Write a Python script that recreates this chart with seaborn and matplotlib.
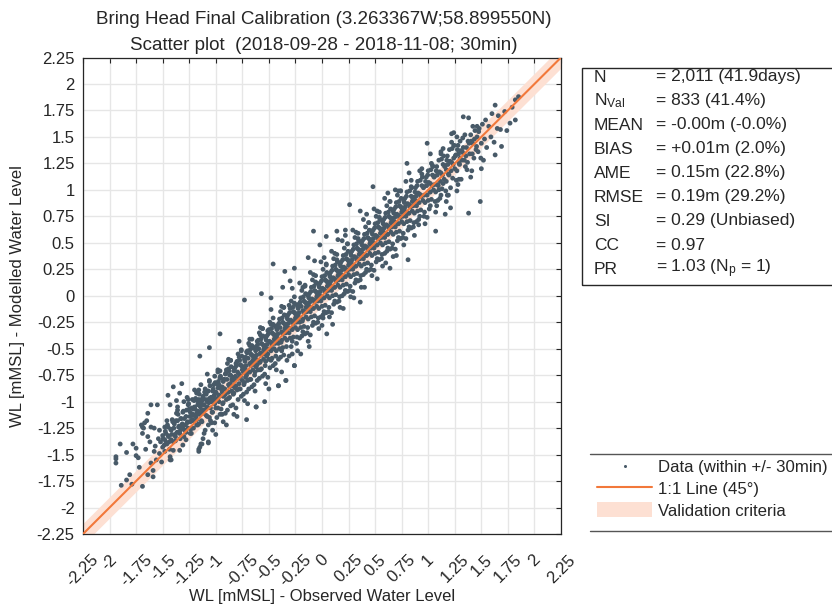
import matplotlib
matplotlib.use("Agg")
import matplotlib.pyplot as plt
from matplotlib.lines import Line2D
from matplotlib.patches import Rectangle, Patch
import numpy as np
import pandas as pd
import seaborn as sns

# ---------------------------------------------------------------- data
# (observed, modelled) water level pairs in m MSL, grouped by tidal stage
low_tide_pairs = [
    (-1.89, -1.79), (-1.84, -1.74), (-1.79, -1.78), (-1.69, -1.80), (-1.94, -1.52), (-1.94, -1.54),
    (-1.94, -1.58), (-1.90, -1.40), (-1.84, -1.48), (-1.78, -1.40), (-1.75, -1.44), (-1.75, -1.51),
    (-1.73, -1.53), (-1.67, -1.20), (-1.68, -1.25), (-1.61, -1.03), (-1.55, -1.03), (-1.69, -1.30),
    (-1.64, -1.33), (-1.62, -1.38), (-1.58, -1.47), (-1.56, -1.55), (-1.61, -1.58), (-1.59, -1.65),
    (-1.64, -1.69), (-1.59, -1.71), (-1.53, -1.49), (-1.51, -1.57), (-1.50, -1.43), (-1.48, -1.36),
    (-1.47, -1.30), (-1.45, -1.24), (-1.43, -1.52), (-1.42, -1.55), (-1.40, -1.46), (-1.40, -1.38),
    (-1.40, -0.86), (-1.32, -0.83), (-1.34, -0.92), (-1.37, -0.99), (-1.45, -0.94), (-1.43, -1.03),
    (-1.61, -1.24), (-1.58, -1.25), (-1.53, -1.27), (-1.48, -1.24), (-1.50, -1.32), (-1.54, -1.35),
    (-1.45, -1.32), (-1.42, -1.27), (-1.39, -1.21), (-1.36, -1.18), (-1.34, -1.30), (-1.31, -1.24),
    (-1.69, -1.24), (-1.70, -1.22), (-1.64, -1.11), (-1.65, -1.18), (-1.37, -1.11), (-1.31, -1.10),
    (-1.28, -1.14), (-1.25, -1.07), (-1.26, -1.25), (-1.23, -1.30), (-1.28, -1.36), (-1.31, -1.41),
    (-1.34, -1.46), (-1.43, -1.55), (-1.36, -1.05), (-1.30, -1.00), (-1.27, -0.96), (-1.33, -1.16),
    (-1.29, -1.27), (-1.38, -1.33), (-1.46, -1.40), (-1.52, -1.38), (-1.57, -1.42), (-1.66, -1.45),
    (-1.72, -1.62), (-1.81, -1.69), (-1.27, -1.20), (-1.35, -1.24), (-1.41, -1.17), (-1.30, -1.33),
    (-1.26, -1.03),
]

ebb_pairs = [
    (-1.21, -1.18), (-1.18, -1.11), (-1.17, -1.22), (-1.15, -1.43), (-1.16, -1.47), (-1.14, -1.40),
    (-1.07, -1.38), (-1.12, -1.35), (-1.15, -0.57), (-1.06, -0.49), (-0.96, -0.36), (-1.16, -1.45),
    (-1.07, -1.39), (-0.62, -1.05), (-0.41, -0.85), (-0.34, -0.80), (-0.26, -0.66),
    (-1.24, -1.10), (-1.23, -1.18), (-1.22, -0.98), (-1.21, -1.25), (-1.20, -1.05), (-1.19, -1.14),
    (-1.18, -0.92), (-1.17, -1.09), (-1.16, -1.21), (-1.16, -1.01), (-1.24, -1.30), (-1.22, -1.13),
    (-1.20, -0.89), (-1.18, -1.17), (-1.17, -1.03), (-1.15, -1.12), (-1.19, -0.97), (-1.21, -1.07),
    (-1.14, -1.02), (-1.13, -1.19), (-1.12, -0.95), (-1.11, -1.08), (-1.10, -0.88), (-1.09, -1.13),
    (-1.08, -1.00), (-1.07, -1.22), (-1.06, -0.97), (-1.05, -1.06), (-1.14, -0.84), (-1.12, -1.11),
    (-1.10, -1.27), (-1.09, -0.93), (-1.08, -1.05), (-1.06, -1.15), (-1.13, -0.99), (-1.11, -1.03),
    (-1.07, -0.90), (-1.05, -1.18),
    (-1.04, -0.96), (-1.03, -1.10), (-1.02, -0.84), (-1.01, -1.02), (-1.00, -0.91), (-0.99, -1.15),
    (-0.98, -0.87), (-0.97, -1.00), (-0.96, -0.78), (-0.95, -1.07), (-1.04, -1.20), (-1.02, -0.97),
    (-1.00, -1.06), (-0.99, -0.83), (-0.98, -0.99), (-0.96, -1.12), (-1.03, -0.90), (-1.01, -0.76),
    (-0.97, -0.94), (-0.95, -0.88), (-1.00, -1.31), (-0.98, -0.72),
    (-0.94, -0.86), (-0.93, -1.01), (-0.92, -0.79), (-0.91, -0.93), (-0.90, -0.70), (-0.89, -1.08),
    (-0.88, -0.84), (-0.87, -0.96), (-0.86, -0.75), (-0.85, -0.90), (-0.94, -1.12), (-0.92, -0.88),
    (-0.90, -0.98), (-0.89, -0.64), (-0.88, -0.91), (-0.86, -1.04), (-0.93, -0.81), (-0.91, -0.74),
    (-0.87, -0.86), (-0.85, -0.79), (-0.90, -1.22), (-0.88, -0.69), (-0.93, -0.95),
    (-0.84, -0.77), (-0.83, -0.92), (-0.82, -0.68), (-0.81, -0.85), (-0.80, -0.62), (-0.79, -0.98),
    (-0.78, -0.74), (-0.77, -0.88), (-0.76, -0.66), (-0.75, -0.80), (-0.84, -1.03), (-0.82, -0.80),
    (-0.80, -0.89), (-0.79, -0.55), (-0.78, -0.83), (-0.76, -0.95), (-0.83, -0.71), (-0.81, -0.64),
    (-0.77, -0.76), (-0.75, -0.70), (-0.80, -1.14), (-0.78, -0.58), (-0.82, -0.87), (-0.71, -1.17),
    (-0.74, -0.67), (-0.73, -0.82), (-0.72, -0.58), (-0.71, -0.75), (-0.70, -0.52), (-0.69, -0.88),
    (-0.68, -0.64), (-0.67, -0.79), (-0.66, -0.56), (-0.65, -0.70), (-0.74, -0.93), (-0.72, -0.70),
    (-0.70, -0.80), (-0.69, -0.45), (-0.68, -0.72), (-0.66, -0.86), (-0.73, -0.60), (-0.71, -0.53),
    (-0.67, -0.66), (-0.65, -0.61), (-0.70, -1.02), (-0.68, -0.47), (-0.72, -0.77), (-0.73, -0.04),
    (-0.64, -0.57), (-0.63, -0.72), (-0.62, -0.48), (-0.61, -0.65), (-0.60, -0.42), (-0.59, -0.78),
    (-0.58, -0.54), (-0.57, -0.69), (-0.56, -0.46), (-0.55, -0.60), (-0.64, -0.84), (-0.62, -0.61),
    (-0.60, -0.70), (-0.59, -0.35), (-0.58, -0.62), (-0.56, -0.76), (-0.63, -0.50), (-0.61, -0.43),
    (-0.57, -0.56), (-0.55, -0.51), (-0.62, -1.05), (-0.58, -0.37), (-0.62, -0.67), (-0.54, -1.00),
    (-0.54, -0.47), (-0.53, -0.62), (-0.52, -0.38), (-0.51, -0.55), (-0.50, -0.32), (-0.49, -0.68),
    (-0.48, -0.44), (-0.47, -0.59), (-0.46, -0.36), (-0.45, -0.50), (-0.54, -0.74), (-0.52, -0.51),
    (-0.50, -0.60), (-0.49, -0.25), (-0.48, -0.52), (-0.46, -0.66), (-0.53, -0.40), (-0.51, -0.33),
    (-0.47, -0.46), (-0.45, -0.41), (-0.50, -0.88), (-0.48, -0.27), (-0.52, -0.57), (-0.57, 0.02),
    (-0.48, -0.02),
    (-0.44, -0.37), (-0.43, -0.52), (-0.42, -0.28), (-0.41, -0.45), (-0.40, -0.22), (-0.39, -0.58),
    (-0.38, -0.34), (-0.37, -0.49), (-0.36, -0.26), (-0.35, -0.40), (-0.44, -0.64), (-0.42, -0.41),
    (-0.40, -0.50), (-0.39, -0.15), (-0.38, -0.42), (-0.36, -0.56), (-0.43, -0.30), (-0.41, -0.85),
    (-0.37, -0.36), (-0.35, -0.31), (-0.46, 0.30), (-0.37, 0.08), (-0.35, 0.23), (-0.38, -0.72),
    (-0.34, -0.27), (-0.33, -0.42), (-0.32, -0.18), (-0.31, -0.35), (-0.30, -0.12), (-0.29, -0.48),
    (-0.28, -0.24), (-0.27, -0.39), (-0.26, -0.16), (-0.25, -0.30), (-0.34, -0.80), (-0.32, -0.31),
    (-0.30, -0.40), (-0.29, -0.05), (-0.28, -0.32), (-0.26, -0.66), (-0.33, -0.20), (-0.31, -0.09),
    (-0.27, -0.26), (-0.25, -0.21), (-0.30, 0.14), (-0.26, 0.26), (-0.28, -0.55),
]

flood_pairs = [
    (-0.24, -0.17), (-0.23, -0.32), (-0.22, -0.08), (-0.21, -0.25), (-0.20, -0.02), (-0.19, -0.38),
    (-0.18, -0.14), (-0.17, -0.29), (-0.16, -0.06), (-0.15, -0.20), (-0.24, -0.45), (-0.22, -0.21),
    (-0.20, -0.30), (-0.19, 0.05), (-0.18, -0.22), (-0.16, -0.36), (-0.23, -0.10), (-0.21, 0.12),
    (-0.17, -0.16), (-0.15, -0.11), (-0.13, 0.36), (-0.20, -0.55),
    (-0.14, -0.07), (-0.13, -0.22), (-0.12, 0.02), (-0.11, -0.15), (-0.10, 0.08), (-0.09, -0.28),
    (-0.08, -0.04), (-0.07, -0.19), (-0.06, 0.04), (-0.05, -0.10), (-0.14, -0.35), (-0.12, -0.11),
    (-0.10, -0.20), (-0.09, 0.15), (-0.08, -0.12), (-0.06, -0.26), (-0.13, 0.00), (-0.11, 0.22),
    (-0.07, -0.06), (-0.05, -0.01), (-0.08, 0.61), (-0.07, 0.33), (-0.12, -0.48),
    (-0.04, 0.03), (-0.03, -0.12), (-0.02, 0.12), (-0.01, -0.05), (0.00, 0.18), (0.01, -0.18),
    (0.02, 0.06), (0.03, -0.09), (0.04, 0.14), (0.05, 0.00), (-0.04, -0.25), (-0.02, -0.01),
    (0.00, -0.10), (0.01, 0.25), (0.02, -0.02), (0.04, -0.16), (-0.03, 0.10), (-0.01, 0.32),
    (0.03, 0.04), (0.05, 0.09), (-0.02, 0.48), (0.04, 0.56), (0.00, -0.28), (0.01, -0.21),
    (0.045, -0.36),
    (0.06, 0.13), (0.07, -0.02), (0.08, 0.22), (0.09, 0.05), (0.10, 0.28), (0.11, -0.08),
    (0.12, 0.16), (0.13, 0.01), (0.14, 0.24), (0.15, 0.10), (0.06, -0.15), (0.08, 0.09),
    (0.10, 0.00), (0.11, 0.35), (0.12, 0.08), (0.14, -0.06), (0.07, 0.20), (0.09, 0.42),
    (0.13, 0.14), (0.15, 0.19), (0.14, 0.61), (0.10, -0.27),
    (0.16, 0.23), (0.17, 0.08), (0.18, 0.32), (0.19, 0.15), (0.20, 0.38), (0.21, 0.02),
    (0.22, 0.26), (0.23, 0.11), (0.24, 0.34), (0.25, 0.20), (0.16, -0.05), (0.18, 0.19),
    (0.20, 0.10), (0.21, 0.45), (0.22, 0.18), (0.24, 0.04), (0.17, 0.30), (0.19, 0.52),
    (0.23, 0.24), (0.25, 0.29), (0.15, 0.53), (0.22, 0.62), (0.20, -0.12),
    (0.26, 0.33), (0.27, 0.18), (0.28, 0.42), (0.29, 0.25), (0.30, 0.48), (0.31, 0.12),
    (0.32, 0.36), (0.33, 0.21), (0.34, 0.44), (0.35, 0.30), (0.26, 0.05), (0.28, 0.29),
    (0.30, 0.20), (0.31, 0.55), (0.32, 0.28), (0.34, 0.14), (0.27, 0.40), (0.29, 0.62),
    (0.33, 0.34), (0.35, 0.39), (0.26, 0.86), (0.30, -0.02), (0.36, -0.06),
    (0.36, 0.43), (0.37, 0.28), (0.38, 0.52), (0.39, 0.35), (0.40, 0.58), (0.41, 0.22),
    (0.42, 0.46), (0.43, 0.31), (0.44, 0.54), (0.45, 0.40), (0.36, 0.15), (0.38, 0.39),
    (0.40, 0.30), (0.41, 0.65), (0.42, 0.38), (0.44, 0.24), (0.37, 0.50), (0.39, 0.72),
    (0.43, 0.44), (0.45, 0.49), (0.36, 0.80), (0.40, 0.08),
    (0.46, 0.53), (0.47, 0.38), (0.48, 0.62), (0.49, 0.45), (0.50, 0.68), (0.51, 0.32),
    (0.52, 0.56), (0.53, 0.41), (0.54, 0.64), (0.55, 0.50), (0.46, 0.25), (0.48, 0.49),
    (0.50, 0.40), (0.51, 0.75), (0.52, 0.48), (0.54, 0.34), (0.47, 0.60), (0.49, 0.82),
    (0.53, 0.54), (0.55, 0.59), (0.48, 1.03), (0.52, 0.16),
    (0.56, 0.63), (0.57, 0.48), (0.58, 0.72), (0.59, 0.55), (0.60, 0.78), (0.61, 0.42),
    (0.62, 0.66), (0.63, 0.51), (0.64, 0.74), (0.65, 0.60), (0.56, 0.35), (0.58, 0.59),
    (0.60, 0.50), (0.61, 0.85), (0.62, 0.58), (0.64, 0.44), (0.57, 0.70), (0.59, 0.92),
    (0.63, 0.64), (0.65, 0.69), (0.64, 0.26), (0.60, 0.31),
    (0.66, 0.73), (0.67, 0.58), (0.68, 0.82), (0.69, 0.65), (0.70, 0.88), (0.71, 0.52),
    (0.72, 0.76), (0.73, 0.61), (0.74, 0.84), (0.75, 0.70), (0.66, 0.45), (0.68, 0.69),
    (0.70, 0.60), (0.71, 0.95), (0.72, 0.68), (0.74, 0.54), (0.67, 0.80), (0.69, 1.00),
    (0.73, 0.74), (0.75, 0.79), (0.70, 0.38),
    (0.76, 0.83), (0.77, 0.68), (0.78, 0.92), (0.79, 0.75), (0.80, 0.98), (0.81, 0.62),
    (0.82, 0.86), (0.83, 0.71), (0.84, 0.94), (0.85, 0.80), (0.76, 0.55), (0.78, 0.79),
    (0.80, 0.70), (0.80, 1.25), (0.82, 0.78), (0.84, 0.64), (0.77, 0.90), (0.79, 1.08),
    (0.83, 0.84), (0.81, 0.34), (0.85, 0.89),
    (0.86, 0.93), (0.87, 0.78), (0.88, 1.02), (0.89, 0.85), (0.90, 1.08), (0.91, 0.72),
    (0.92, 0.96), (0.93, 0.81), (0.94, 1.04), (0.95, 0.90), (0.86, 0.65), (0.88, 0.89),
    (0.90, 0.80), (0.91, 0.67), (0.93, 0.94), (0.94, 1.15),
]

high_tide_pairs = [
    (0.96, 1.03), (0.97, 0.88), (0.98, 1.12), (0.99, 0.95), (1.00, 1.18), (1.01, 0.82),
    (1.02, 1.06), (1.03, 0.91), (1.04, 1.14), (1.05, 1.00), (0.99, 1.44), (0.96, 0.75),
    (1.00, 0.90), (1.03, 1.25), (1.02, 0.98),
    (1.06, 1.13), (1.07, 0.98), (1.08, 1.22), (1.09, 1.05), (1.10, 1.28), (1.11, 0.92),
    (1.12, 1.16), (1.13, 1.01), (1.14, 1.24), (1.15, 1.10), (1.07, 0.61), (1.08, 0.85),
    (1.10, 1.00), (1.12, 1.34), (1.16, 0.77), (1.14, 1.06),
    (1.16, 1.23), (1.17, 1.08), (1.18, 1.32), (1.19, 1.15), (1.20, 1.38), (1.21, 1.02),
    (1.22, 1.26), (1.23, 1.11), (1.24, 1.54), (1.25, 1.20), (1.21, 0.83), (1.18, 0.95),
    (1.22, 1.45), (1.24, 1.30), (1.17, 1.19),
    (1.26, 1.33), (1.27, 1.18), (1.28, 1.42), (1.29, 1.25), (1.30, 1.46), (1.31, 1.10),
    (1.32, 1.36), (1.33, 1.69), (1.34, 1.28), (1.35, 1.22), (1.28, 1.05), (1.30, 1.30),
    (1.33, 1.40), (1.27, 1.50),
    (1.36, 1.40), (1.37, 1.26), (1.38, 1.68), (1.38, 0.78), (1.39, 1.34), (1.40, 1.52),
    (1.41, 1.18), (1.42, 1.44), (1.43, 1.30), (1.44, 1.56), (1.45, 1.38), (1.40, 1.12),
    (1.42, 1.60),
    (1.46, 1.50), (1.47, 1.36), (1.48, 1.58), (1.49, 0.89), (1.50, 1.44), (1.51, 1.62),
    (1.52, 1.28), (1.53, 1.48), (1.54, 1.66), (1.55, 1.40), (1.50, 1.20),
    (1.57, 1.60), (1.59, 1.50), (1.60, 1.72), (1.62, 1.45), (1.63, 1.33), (1.63, 1.80),
    (1.65, 1.58), (1.68, 1.57), (1.69, 1.41), (1.66, 1.70),
    (1.72, 1.74), (1.77, 1.63), (1.82, 1.66), (1.82, 1.85), (1.85, 1.88), (1.74, 1.56),
    (1.79, 1.78),
]

# densely sampled mid-tide samples close to the 1:1 line
core_pairs = [
    (-1.495, -1.35), (-1.485, -1.41), (-1.475, -1.28), (-1.465, -1.39), (-1.455, -1.22), (-1.445, -1.33),
    (-1.435, -1.45), (-1.425, -1.26), (-1.415, -1.31), (-1.405, -1.19), (-1.48, -1.47), (-1.46, -1.18),
    (-1.44, -1.38), (-1.42, -1.36),
    (-1.395, -1.25), (-1.385, -1.31), (-1.375, -1.18), (-1.365, -1.29), (-1.355, -1.12), (-1.345, -1.23),
    (-1.335, -1.35), (-1.325, -1.16), (-1.315, -1.21), (-1.305, -1.09), (-1.38, -1.37), (-1.36, -1.08),
    (-1.34, -1.28), (-1.32, -1.26),
    (-1.295, -1.16), (-1.285, -1.22), (-1.275, -1.08), (-1.265, -1.19), (-1.255, -1.02), (-1.245, -1.14),
    (-1.235, -1.26), (-1.225, -1.06), (-1.215, -1.12), (-1.205, -0.99), (-1.28, -1.29), (-1.26, -0.98),
    (-1.24, -1.19), (-1.22, -1.17),
    (-1.195, -1.07), (-1.185, -1.14), (-1.175, -0.99), (-1.165, -1.10), (-1.155, -0.93), (-1.145, -1.05),
    (-1.135, -1.18), (-1.125, -0.97), (-1.115, -1.03), (-1.105, -0.91), (-1.18, -1.22), (-1.16, -0.89),
    (-1.14, -1.09), (-1.12, -1.08),
    (-1.095, -0.98), (-1.085, -1.06), (-1.075, -0.90), (-1.065, -1.01), (-1.055, -0.85), (-1.045, -0.96),
    (-1.035, -1.10), (-1.025, -0.88), (-1.015, -0.94), (-1.005, -0.82), (-1.08, -1.14), (-1.06, -0.80),
    (-1.04, -1.00), (-1.02, -0.99),
    (-0.995, -0.92), (-0.985, -0.97), (-0.975, -0.81), (-0.965, -0.95), (-0.955, -0.76), (-0.945, -0.87),
    (-0.935, -1.02), (-0.925, -0.79), (-0.915, -0.88), (-0.905, -0.73), (-0.98, -1.06), (-0.96, -0.71),
    (-0.94, -0.91), (-0.92, -0.94), (-0.97, -0.84),
    (-0.895, -0.79), (-0.885, -0.91), (-0.875, -0.71), (-0.865, -0.83), (-0.855, -0.67), (-0.845, -0.80),
    (-0.835, -0.93), (-0.825, -0.69), (-0.815, -0.76), (-0.805, -0.66), (-0.88, -0.97), (-0.86, -0.61),
    (-0.84, -0.85), (-0.82, -0.80), (-0.87, -0.75),
    (-0.795, -0.72), (-0.785, -0.78), (-0.775, -0.61), (-0.765, -0.76), (-0.755, -0.57), (-0.745, -0.68),
    (-0.735, -0.84), (-0.725, -0.62), (-0.715, -0.66), (-0.705, -0.54), (-0.78, -0.88), (-0.76, -0.51),
    (-0.74, -0.72), (-0.72, -0.73), (-0.77, -0.65),
    (-0.695, -0.59), (-0.685, -0.72), (-0.675, -0.51), (-0.665, -0.63), (-0.655, -0.49), (-0.645, -0.58),
    (-0.635, -0.75), (-0.625, -0.52), (-0.615, -0.56), (-0.605, -0.46), (-0.68, -0.79), (-0.66, -0.41),
    (-0.64, -0.65), (-0.62, -0.60), (-0.67, -0.55),
    (-0.595, -0.50), (-0.585, -0.63), (-0.575, -0.41), (-0.565, -0.55), (-0.555, -0.38), (-0.545, -0.48),
    (-0.535, -0.66), (-0.525, -0.42), (-0.515, -0.46), (-0.505, -0.36), (-0.58, -0.70), (-0.56, -0.31),
    (-0.54, -0.55), (-0.52, -0.50), (-0.57, -0.45),
    (-0.495, -0.43), (-0.485, -0.50), (-0.475, -0.31), (-0.465, -0.45), (-0.455, -0.28), (-0.445, -0.38),
    (-0.435, -0.57), (-0.425, -0.32), (-0.415, -0.36), (-0.405, -0.26), (-0.48, -0.61), (-0.46, -0.21),
    (-0.44, -0.45), (-0.42, -0.40), (-0.47, -0.35),
    (-0.395, -0.30), (-0.385, -0.44), (-0.375, -0.21), (-0.365, -0.35), (-0.355, -0.18), (-0.345, -0.28),
    (-0.335, -0.48), (-0.325, -0.22), (-0.315, -0.26), (-0.305, -0.16), (-0.38, -0.52), (-0.36, -0.11),
    (-0.34, -0.35), (-0.32, -0.30), (-0.37, -0.25),
    (-0.295, -0.23), (-0.285, -0.31), (-0.275, -0.11), (-0.265, -0.25), (-0.255, -0.08), (-0.245, -0.18),
    (-0.235, -0.39), (-0.225, -0.12), (-0.215, -0.16), (-0.205, -0.06), (-0.28, -0.43), (-0.26, -0.01),
    (-0.24, -0.25), (-0.22, -0.20), (-0.27, -0.15),
    (-0.195, -0.10), (-0.185, -0.24), (-0.175, -0.01), (-0.165, -0.15), (-0.155, 0.02), (-0.145, -0.08),
    (-0.135, -0.30), (-0.125, -0.02), (-0.115, -0.06), (-0.105, 0.04), (-0.18, -0.34), (-0.16, 0.09),
    (-0.14, -0.15), (-0.12, -0.10), (-0.17, -0.05),
    (-0.095, -0.03), (-0.085, -0.12), (-0.075, 0.09), (-0.065, -0.05), (-0.055, 0.12), (-0.045, 0.02),
    (-0.035, -0.21), (-0.025, 0.08), (-0.015, 0.04), (-0.005, 0.14), (-0.08, -0.25), (-0.06, 0.19),
    (-0.04, -0.05), (-0.02, 0.00), (-0.07, 0.05),
    (0.005, 0.07), (0.015, -0.02), (0.025, 0.19), (0.035, 0.04), (0.045, 0.22), (0.055, 0.12),
    (0.065, -0.11), (0.075, 0.18), (0.085, 0.14), (0.095, 0.24), (0.02, -0.15), (0.04, 0.29),
    (0.06, 0.05), (0.08, 0.10), (0.03, 0.15),
    (0.105, 0.17), (0.115, 0.08), (0.125, 0.29), (0.135, 0.14), (0.145, 0.32), (0.155, 0.22),
    (0.165, -0.01), (0.175, 0.28), (0.185, 0.24), (0.195, 0.34), (0.12, -0.05), (0.14, 0.39),
    (0.16, 0.15), (0.18, 0.20), (0.13, 0.25),
    (0.205, 0.27), (0.215, 0.18), (0.225, 0.39), (0.235, 0.24), (0.245, 0.42), (0.255, 0.32),
    (0.265, 0.09), (0.275, 0.38), (0.285, 0.34), (0.295, 0.44), (0.22, 0.05), (0.24, 0.49),
    (0.26, 0.25), (0.28, 0.30), (0.23, 0.35),
    (0.305, 0.37), (0.315, 0.28), (0.325, 0.49), (0.335, 0.34), (0.345, 0.52), (0.355, 0.42),
    (0.365, 0.19), (0.375, 0.48), (0.385, 0.44), (0.395, 0.54), (0.32, 0.15), (0.34, 0.59),
    (0.36, 0.35), (0.38, 0.40), (0.33, 0.45),
    (0.405, 0.47), (0.415, 0.38), (0.425, 0.59), (0.435, 0.44), (0.445, 0.62), (0.455, 0.52),
    (0.465, 0.29), (0.475, 0.58), (0.485, 0.54), (0.495, 0.64), (0.42, 0.25), (0.44, 0.69),
    (0.46, 0.45), (0.48, 0.50), (0.43, 0.55),
    (0.505, 0.57), (0.515, 0.48), (0.525, 0.69), (0.535, 0.54), (0.545, 0.72), (0.555, 0.62),
    (0.565, 0.39), (0.575, 0.68), (0.585, 0.64), (0.595, 0.74), (0.52, 0.35), (0.54, 0.79),
    (0.56, 0.55), (0.58, 0.60), (0.53, 0.65),
    (0.605, 0.67), (0.615, 0.58), (0.625, 0.79), (0.635, 0.64), (0.645, 0.82), (0.655, 0.72),
    (0.665, 0.49), (0.675, 0.78), (0.685, 0.74), (0.695, 0.84), (0.62, 0.45), (0.64, 0.89),
    (0.66, 0.65), (0.68, 0.70), (0.63, 0.75),
    (0.705, 0.77), (0.715, 0.68), (0.725, 0.89), (0.735, 0.74), (0.745, 0.92), (0.755, 0.82),
    (0.765, 0.59), (0.775, 0.88), (0.785, 0.84), (0.795, 0.94), (0.72, 0.55), (0.74, 0.99),
    (0.76, 0.75), (0.78, 0.80), (0.73, 0.85),
    (0.805, 0.87), (0.815, 0.78), (0.825, 0.99), (0.835, 0.84), (0.845, 1.02), (0.855, 0.92),
    (0.865, 0.69), (0.875, 0.98), (0.885, 0.94), (0.895, 1.04), (0.82, 0.65), (0.84, 1.09),
    (0.86, 0.85), (0.88, 0.90),
    (0.905, 0.97), (0.915, 0.88), (0.925, 1.09), (0.935, 0.94), (0.945, 1.12), (0.955, 1.02),
    (0.965, 0.79), (0.975, 1.08), (0.985, 1.04), (0.995, 1.14), (0.92, 0.75), (0.96, 0.95),
    (1.005, 1.07), (1.015, 0.98), (1.025, 1.19), (1.035, 1.04), (1.045, 1.22), (1.055, 1.12),
    (1.065, 0.89), (1.075, 1.18), (1.085, 1.14), (1.095, 1.04), (1.02, 0.85), (1.06, 1.05),
    (1.105, 1.17), (1.115, 1.08), (1.125, 1.29), (1.135, 1.14), (1.145, 1.32), (1.155, 1.22),
    (1.165, 0.99), (1.175, 1.28), (1.185, 1.24), (1.195, 1.14), (1.12, 0.95),
    (1.205, 1.27), (1.215, 1.18), (1.225, 1.39), (1.235, 1.24), (1.245, 1.42), (1.255, 1.32),
    (1.265, 1.09), (1.275, 1.38), (1.285, 1.34), (1.295, 1.24),
    (1.305, 1.37), (1.315, 1.28), (1.325, 1.49), (1.335, 1.34), (1.345, 1.52), (1.355, 1.32),
    (1.365, 1.19), (1.375, 1.46), (1.385, 1.44),
    (1.405, 1.46), (1.415, 1.34), (1.435, 1.48), (1.455, 1.41), (1.475, 1.55), (1.495, 1.30),
    (1.46, 1.60),
]

# samples on the fringes of the cloud
fringe_pairs = [
    (-1.18, -0.91), (-1.13, -1.40), (-1.08, -0.74), (-1.03, -1.27), (-0.98, -0.70), (-0.93, -1.19),
    (-0.88, -0.60), (-0.83, -1.12), (-0.78, -0.43), (-0.73, -0.99), (-0.68, -0.41), (-0.63, -0.90),
    (-0.58, -0.30), (-0.53, -0.83), (-0.48, -0.13), (-0.43, -0.70), (-0.38, -0.10), (-0.33, -0.61),
    (-0.28, 0.07), (-0.23, -0.52), (-0.18, 0.08), (-0.13, -0.43), (-0.08, 0.20), (-0.03, -0.31),
    (0.02, 0.36), (0.07, -0.20), (0.12, 0.40), (0.17, -0.11), (0.22, 0.57), (0.27, -0.01),
    (0.32, 0.60), (0.37, 0.08), (0.42, 0.77), (0.47, 0.19), (0.52, 0.80), (0.57, 0.28),
    (0.62, 0.97), (0.67, 0.37), (0.72, 0.99), (0.77, 0.48), (0.82, 1.16), (0.87, 0.57),
    (0.92, 1.18), (0.97, 0.68), (1.02, 1.34), (1.07, 0.79), (1.12, 1.36), (1.17, 0.89),
    (1.22, 1.53), (1.27, 0.99),
    (-1.16, -0.98), (-1.11, -1.30), (-1.06, -0.81), (-1.01, -1.20), (-0.96, -0.77), (-0.91, -1.11),
    (-0.86, -0.61), (-0.81, -1.06), (-0.76, -0.52), (-0.71, -0.91), (-0.66, -0.47), (-0.61, -0.80),
    (-0.56, -0.31), (-0.51, -0.77), (-0.46, -0.27), (-0.41, -0.60), (-0.36, -0.11), (-0.31, -0.57),
    (-0.26, -0.07), (-0.21, -0.40), (-0.16, 0.10), (-0.11, -0.37), (-0.06, 0.13), (-0.01, -0.20),
    (0.04, 0.30), (0.09, -0.16), (0.14, 0.34), (0.19, 0.00), (0.24, 0.49), (0.29, 0.04),
    (0.34, 0.54), (0.39, 0.20), (0.44, 0.69), (0.49, 0.24), (0.54, 0.74), (0.59, 0.40),
    (0.64, 0.89), (0.69, 0.44), (0.74, 0.99), (0.79, 0.54), (0.84, 1.03), (0.89, 0.70),
    (0.94, 1.20), (0.99, 0.74), (1.04, 1.23), (1.09, 0.90), (1.14, 1.39), (1.19, 0.95),
    (1.24, 1.42), (1.29, 1.10),
]

axis_limits = [-2.25, 2.25]
tick_values = [-2.25, -2.0, -1.75, -1.5, -1.25, -1.0, -0.75, -0.5, -0.25, 0.0,
               0.25, 0.5, 0.75, 1.0, 1.25, 1.5, 1.75, 2.0, 2.25]
tick_labels = ["-2.25", "-2", "-1.75", "-1.5", "-1.25", "-1", "-0.75", "-0.5", "-0.25", "0",
               "0.25", "0.5", "0.75", "1", "1.25", "1.5", "1.75", "2", "2.25"]
validation_halfwidth = 0.1  # m, acceptance band around the 1:1 line

stat_names = ["N", r"N$_{\mathrm{Val}}$", "MEAN", "BIAS", "AME", "RMSE", "SI", "CC", "PR"]
stat_values = ["= 2,011 (41.9days)", "= 833 (41.4%)", "= -0.00m (-0.0%)", "= +0.01m (2.0%)",
               "= 0.15m (22.8%)", "= 0.19m (29.2%)", "= 0.29 (Unbiased)", "= 0.97",
               r"= 1.03 (N$_{\mathrm{p}}$ = 1)"]

title_lines = ["Bring Head Final Calibration (3.263367W;58.899550N)",
               "Scatter plot  (2018-09-28 - 2018-11-08; 30min)"]

# ---------------------------------------------------------------- style
sns.set_theme(style="white")
plt.rcParams["font.family"] = ["Liberation Sans", "DejaVu Sans"]
plt.rcParams["mathtext.fontset"] = "custom"
plt.rcParams["mathtext.rm"] = "Liberation Sans"
plt.rcParams["mathtext.it"] = "Liberation Sans:italic"

POINT_COLOR = "#485a68"
LINE_COLOR = "#f2783a"
BAND_COLOR = "#fde0d3"
INK = "#262626"

pairs = low_tide_pairs + ebb_pairs + flood_pairs + high_tide_pairs + core_pairs + fringe_pairs
df = pd.DataFrame(pairs, columns=["observed", "modelled"])

W, H = 832, 607
fig = plt.figure(figsize=(W / 100, H / 100), dpi=100)


def fx(px):
    return px / W


def fy(py):
    return 1 - py / H


ax = fig.add_axes([fx(83), fy(534), fx(561) - fx(83), fy(57.5) - fy(534)])

# validation band and 1:1 line
lim = np.array(axis_limits)
ax.fill_between(lim, lim - validation_halfwidth, lim + validation_halfwidth,
                color=BAND_COLOR, lw=0, zorder=1)
sns.lineplot(x=lim, y=lim, ax=ax, color=LINE_COLOR, lw=1.5, zorder=3)
sns.scatterplot(data=df, x="observed", y="modelled", ax=ax, s=12, color=POINT_COLOR,
                edgecolor="none", linewidth=0, zorder=2)

ax.set_xlim(axis_limits)
ax.set_ylim(axis_limits)
ax.set_xticks(tick_values)
ax.set_yticks(tick_values)
ax.set_xticklabels(tick_labels, rotation=45, ha="center")
ax.set_yticklabels(tick_labels)
ax.grid(True, color="#e6e6e6", lw=1.0, zorder=0)
ax.set_axisbelow(True)
ax.tick_params(axis="both", direction="in", length=3.5, width=0.8, color=INK,
               labelcolor=INK, labelsize=12, top=True, right=True)
ax.tick_params(axis="x", pad=13)
ax.tick_params(axis="y", pad=6)
for sp in ax.spines.values():
    sp.set_color(INK)
    sp.set_linewidth(0.9)
ax.set_xlabel("")
ax.set_ylabel("")

fig.text(fx(322), fy(597), "WL [mMSL] - Observed Water Level", ha="center", va="center",
         fontsize=12, color=INK)
fig.text(fx(18), fy(296), "WL [mMSL] - Modelled Water Level", ha="center", va="center",
         rotation=90, fontsize=12, color=INK)

fig.text(fx(324), fy(20), title_lines[0], ha="center", va="center", fontsize=13.5, color=INK)
fig.text(fx(324), fy(45), title_lines[1], ha="center", va="center", fontsize=13.5, color=INK)

# statistics panel
fig.add_artist(Rectangle((fx(582), fy(285)), fx(900) - fx(582), fy(68) - fy(285),
                         transform=fig.transFigure, fill=False, edgecolor=INK, lw=1.0))
for i, (name, val) in enumerate(zip(stat_names, stat_values)):
    y = 77 + 24 * i
    fig.text(fx(594), fy(y), name, ha="left", va="center", fontsize=12.5, color=INK)
    fig.text(fx(656), fy(y), val, ha="left", va="center", fontsize=12.5, color=INK)

# legend
handles = [
    Line2D([], [], ls="none", marker="o", ms=2.2, color=POINT_COLOR, mec="none"),
    Line2D([], [], color=LINE_COLOR, lw=1.5),
    Patch(facecolor=BAND_COLOR, edgecolor="none"),
]
labels = ["Data (within +/- 30min)", "1:1 Line (45\u00b0)", "Validation criteria"]
ax.legend(handles, labels, loc="upper left", bbox_to_anchor=(fx(597), fy(459)),
          bbox_transform=fig.transFigure, frameon=False, borderpad=0, borderaxespad=0,
          handlelength=3.3, handleheight=1.0, handletextpad=0.35, labelspacing=0.32,
          fontsize=12.1, labelcolor=INK)
for yy in (454, 531):
    fig.add_artist(Line2D([fx(590), fx(840)], [fy(yy), fy(yy)], transform=fig.transFigure,
                          color="#555555", lw=1.0))

fig.savefig("out.png", dpi=100)
